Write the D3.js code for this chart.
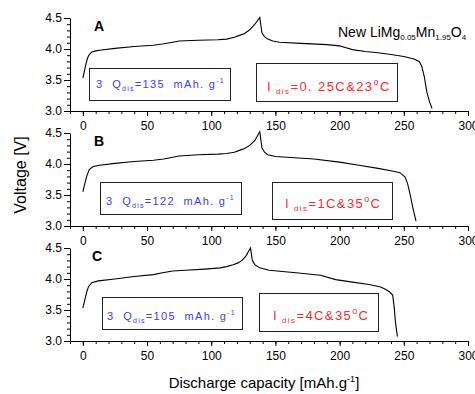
<!DOCTYPE html>
<html>
<head>
  <script src="https://d3js.org/d3.v7.min.js"></script>
  <style>
    body { margin: 0; background: #fff; }
    svg { font-family: "Liberation Sans", Arial, sans-serif; }
    text { white-space: pre; }
    .curve { fill: none; stroke: #000; stroke-width: 1.1px; }
    .box { fill: none; stroke: #222; stroke-width: 1px; }
    .axis path, .axis line { stroke: #000; stroke-width: 1px; }
    .axis text { font-size: 12px; fill: #000; }
  </style>
</head>
<body>
  <script>
    // capacity (mAh/g) and voltage (V) for the three discharge curves
    var capA = [0, 1, 2, 3.6, 5, 7, 10, 13, 25, 40, 55, 62, 70, 75, 90, 105, 112, 118, 122, 126, 130, 134, 137.8, 139.5, 141.5, 144, 148, 153, 170, 190, 200, 205, 210, 220, 230, 240, 250, 258, 262, 264, 266, 268, 270, 272];
    var voltA = [3.53, 3.62, 3.72, 3.85, 3.91, 3.95, 3.97, 3.98, 4.01, 4.04, 4.06, 4.08, 4.11, 4.13, 4.14, 4.15, 4.16, 4.19, 4.22, 4.25, 4.31, 4.40, 4.51, 4.26, 4.20, 4.16, 4.13, 4.11, 4.09, 4.07, 4.05, 4.02, 3.99, 3.96, 3.94, 3.91, 3.88, 3.84, 3.80, 3.72, 3.55, 3.30, 3.15, 3.04];

    var capB = [0, 1.5, 3, 5, 8, 13, 25, 40, 55, 63, 70, 75, 90, 105, 112, 118, 122, 126, 130, 134, 137.8, 139.5, 141.5, 144, 150, 165, 180, 200, 215, 230, 240, 247, 251, 253, 255, 257, 259.5];
    var voltB = [3.55, 3.68, 3.80, 3.91, 3.96, 3.98, 4.01, 4.04, 4.06, 4.08, 4.11, 4.13, 4.15, 4.16, 4.17, 4.19, 4.22, 4.25, 4.30, 4.38, 4.52, 4.26, 4.19, 4.15, 4.12, 4.10, 4.08, 4.03, 3.98, 3.93, 3.89, 3.86, 3.79, 3.68, 3.50, 3.30, 3.08];

    var capC = [0, 1.5, 3, 4.5, 7, 12, 25, 40, 55, 62, 70, 80, 95, 107, 112, 117, 121, 124, 127, 130.6, 132, 134, 137.8, 145, 166, 185, 197, 210, 223, 232, 236, 239, 241.3, 242.5, 243.5, 245];
    var voltC = [3.53, 3.66, 3.79, 3.88, 3.94, 3.97, 4.00, 4.04, 4.07, 4.10, 4.13, 4.14, 4.16, 4.18, 4.20, 4.23, 4.26, 4.30, 4.37, 4.50, 4.30, 4.23, 4.18, 4.14, 4.10, 4.06, 3.99, 3.95, 3.91, 3.87, 3.83, 3.79, 3.74, 3.55, 3.30, 3.07];

    var panelNames = ["A", "B", "C"];
    var qDis = ["135", "122", "105"];
    var iDis = ["0. 25C&23", "1C&35", "4C&35"];
    var xTicks = [0, 50, 100, 150, 200, 250, 300];
    var yTicks = [3.0, 3.5, 4.0, 4.5];

    var series = [
      capA.map((c, i) => [c, voltA[i]]),
      capB.map((c, i) => [c, voltB[i]]),
      capC.map((c, i) => [c, voltC[i]])
    ];

    var W = 475, H = 394;
    var svg = d3.select("body").append("svg")
        .attr("width", W)
        .attr("height", H);

    var x = d3.scaleLinear().domain([-10, 300]).range([70, 468]);

    var panelTop = [18, 133, 248];
    var panelH = 93;

    // annotation boxes, relative to each panel's top (pixels)
    var blueBox = [[89, 50, 141, 32], [100, 49, 141, 32], [102, 49, 140, 32]];
    var redBox = [[256, 45, 141, 38], [272, 49, 120, 37], [259, 45, 119, 38]];
    var blueText = [[96, 70], [106, 72], [107, 72]];
    var redText = [[267, 73], [285, 75], [273, 72]];

    var line = d3.line()
        .x(d => x(d[0]));

    panelNames.forEach(function(name, p) {
      var top = panelTop[p];
      var y = d3.scaleLinear().domain([3.0, 4.5]).range([top + panelH, top]);
      var g = svg.append("g");

      // x axis: minor every 10, major every 50
      g.append("g")
          .attr("class", "axis")
          .attr("transform", "translate(0," + (top + panelH) + ")")
          .call(d3.axisBottom(x).tickValues(d3.range(-10, 301, 10)).tickSize(3).tickSizeOuter(0).tickFormat(""));
      g.append("g")
          .attr("class", "axis")
          .attr("transform", "translate(0," + (top + panelH) + ")")
          .call(d3.axisBottom(x).tickValues(xTicks).tickSize(5).tickSizeOuter(0).tickPadding(5).tickFormat(d3.format("d")))
          .select(".domain").remove();

      // y axis
      g.append("g")
          .attr("class", "axis")
          .attr("transform", "translate(" + x(-10) + ",0)")
          .call(d3.axisLeft(y).tickValues(d3.range(3.0, 4.51, 0.1)).tickSize(3).tickSizeOuter(0).tickFormat(""));
      g.append("g")
          .attr("class", "axis")
          .attr("transform", "translate(" + x(-10) + ",0)")
          .call(d3.axisLeft(y).tickValues(yTicks).tickSize(6).tickSizeOuter(0).tickPadding(2).tickFormat(d3.format(".1f")))
          .select(".domain").remove();

      line.y(d => y(d[1]));
      g.append("path")
          .attr("class", "curve")
          .attr("d", line(series[p]));

      g.append("text")
          .attr("x", p == 2 ? 92 : 94)
          .attr("y", top + 13)
          .attr("font-size", 14)
          .attr("font-weight", "bold")
          .text(name);

      var bb = blueBox[p], rb = redBox[p];
      g.append("rect").attr("class", "box")
          .attr("x", bb[0] + 0.5).attr("y", top + bb[1] + 0.5)
          .attr("width", bb[2]).attr("height", bb[3]);
      g.append("rect").attr("class", "box")
          .attr("x", rb[0] + 0.5).attr("y", top + rb[1] + 0.5)
          .attr("width", rb[2]).attr("height", rb[3]);

      var bt = g.append("text")
          .attr("x", blueText[p][0])
          .attr("y", top + blueText[p][1])
          .attr("fill", "#3b3bff")
          .attr("font-size", 11)
          .attr("letter-spacing", 1.3);
      bt.append("tspan").text("3  Q");
      bt.append("tspan").attr("font-size", 7).attr("dy", 3).text("dis");
      bt.append("tspan").attr("dy", -3).text("=" + qDis[p] + "  mAh. g");
      bt.append("tspan").attr("font-size", 7).attr("dy", -5).text("-1");

      var rt = g.append("text")
          .attr("x", redText[p][0])
          .attr("y", top + redText[p][1])
          .attr("fill", "#ff2a2a")
          .attr("font-size", 13)
          .attr("letter-spacing", 1.4);
      rt.append("tspan").text("I");
      rt.append("tspan").attr("font-size", 8).attr("dy", 3).attr("dx", 4).text("dis");
      rt.append("tspan").attr("dy", -3).text("=" + iDis[p]);
      rt.append("tspan").attr("font-size", 9).attr("dy", -6).text("o");
      rt.append("tspan").attr("dy", 6).text("C");
    });

    // formula label
    var ft = svg.append("text")
        .attr("x", 338)
        .attr("y", 37)
        .attr("font-size", 14);
    ft.append("tspan").text("New LiMg");
    ft.append("tspan").attr("font-size", 8).attr("dy", 3).text("0.05");
    ft.append("tspan").attr("dy", -3).text("Mn");
    ft.append("tspan").attr("font-size", 8).attr("dy", 3).text("1.95");
    ft.append("tspan").attr("dy", -3).text("O");
    ft.append("tspan").attr("font-size", 8).attr("dy", 3).text("4");

    // axis titles
    var xt = svg.append("text")
        .attr("x", 264)
        .attr("y", 388)
        .attr("text-anchor", "middle")
        .attr("font-size", 15);
    xt.append("tspan").text("Discharge capacity [mAh.g");
    xt.append("tspan").attr("font-size", 9).attr("dy", -6).text("-1");
    xt.append("tspan").attr("dy", 6).text("]");

    svg.append("text")
        .attr("transform", "translate(26,175) rotate(-90)")
        .attr("text-anchor", "middle")
        .attr("font-size", 16)
        .text("Voltage [V]");
  </script>
</body>
</html>
